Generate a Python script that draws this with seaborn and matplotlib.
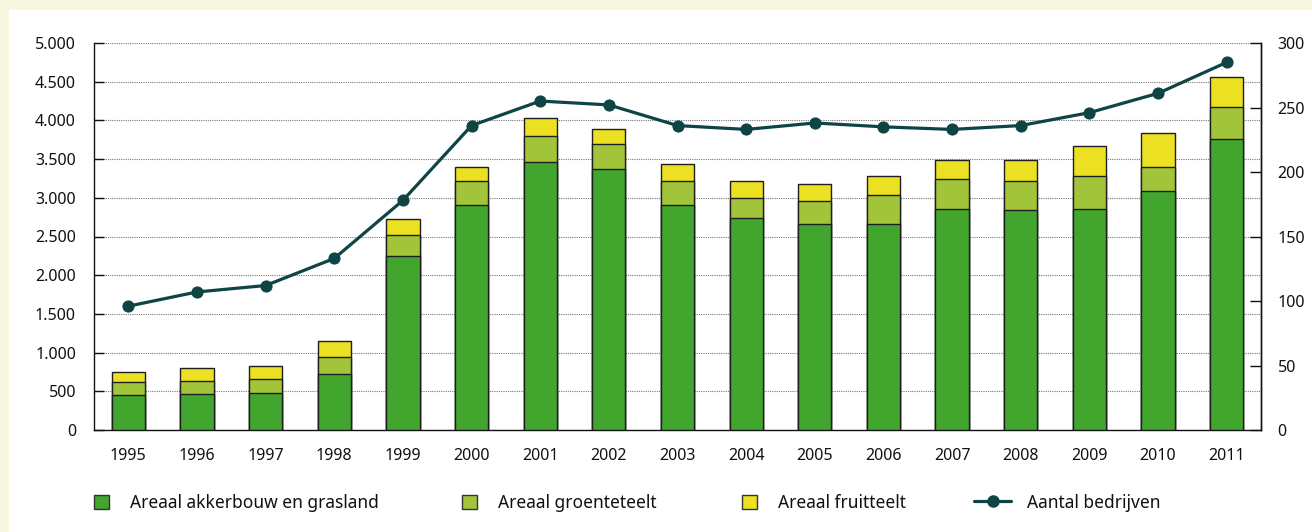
import numpy as np
import pandas as pd
import matplotlib
matplotlib.use("Agg")
import matplotlib.pyplot as plt
from matplotlib.ticker import FuncFormatter, FixedLocator
from matplotlib.patches import Patch, Rectangle
from matplotlib.lines import Line2D
import seaborn as sns

years = ["1995", "1996", "1997", "1998", "1999", "2000", "2001", "2002", "2003",
         "2004", "2005", "2006", "2007", "2008", "2009", "2010", "2011"]
akkerbouw = [448, 461, 482, 723, 2244, 2903, 3463, 3372, 2903, 2735, 2666, 2666,
             2851, 2842, 2851, 3084, 3756]
groenteteelt = [168, 172, 181, 220, 280, 310, 331, 319, 310, 262, 288, 374,
                388, 379, 426, 310, 421]
fruitteelt = [129, 164, 160, 203, 198, 181, 241, 194, 228, 220, 220, 246,
              249, 271, 392, 439, 388]
bedrijven = [96, 107, 112, 133, 178, 236, 255, 252, 236, 233, 238, 235,
             233, 236, 246, 261, 285]

names = ["Areaal akkerbouw en grasland", "Areaal groenteteelt", "Areaal fruitteelt",
         "Aantal bedrijven"]

c_dark = "#42a52d"
c_light = "#a2c43a"
c_yellow = "#ebe122"
c_line = "#0e4444"
c_cream = "#f7f7e0"

sns.set_style("white")
plt.rcParams["font.family"] = ["Noto Sans", "DejaVu Sans"]
plt.rcParams["font.size"] = 11.5

df = pd.DataFrame({"jaar": years, "a": akkerbouw, "g": groenteteelt, "f": fruitteelt,
                   "b": bedrijven})
df["ag"] = df["a"] + df["g"]
df["agf"] = df["ag"] + df["f"]

W, H = 1312, 532
fig = plt.figure(figsize=(W / 100, H / 100), dpi=100, facecolor="white")
# cream frame strips (left and top)
fig.patches.append(Rectangle((0, 0), 9 / W, 1, transform=fig.transFigure,
                             facecolor=c_cream, edgecolor="none", zorder=0))
fig.patches.append(Rectangle((0, 1 - 10 / H), 1, 10 / H, transform=fig.transFigure,
                             facecolor=c_cream, edgecolor="none", zorder=0))

ax = fig.add_axes([94 / W, 1 - 430 / H, (1261 - 94) / W, (430 - 43) / H])
ax.set_facecolor("none")

bw = 0.485
edge = "#1e1e1e"
sns.barplot(data=df, x="jaar", y="agf", color=c_yellow, width=bw, ax=ax,
            edgecolor=edge, linewidth=1, saturation=1, zorder=2)
sns.barplot(data=df, x="jaar", y="ag", color=c_light, width=bw, ax=ax,
            edgecolor=edge, linewidth=1, saturation=1, zorder=3)
sns.barplot(data=df, x="jaar", y="a", color=c_dark, width=bw, ax=ax,
            edgecolor=edge, linewidth=1, saturation=1, zorder=4)

ax.set_xlim(-0.5, len(years) - 0.5)
ax.set_ylim(0, 5000)
ax.set_yticks(np.arange(0, 5001, 500))
ax.yaxis.set_major_formatter(FuncFormatter(lambda v, p: f"{int(v):,}".replace(",", ".")))
ax.set_xlabel("")
ax.set_ylabel("")
ax.grid(axis="y", linestyle=(0, (1, 1)), color="#7a7a7a", linewidth=0.8, zorder=0)
ax.set_axisbelow(True)
for s in ["top"]:
    ax.spines[s].set_visible(False)
for s in ["left", "bottom", "right"]:
    ax.spines[s].set_color("#111111")
    ax.spines[s].set_linewidth(1.0)
ax.tick_params(axis="y", direction="in", length=7.5, width=1, color="#111111",
               pad=13, labelsize=11.5, labelcolor="#111111")
ax.tick_params(axis="x", which="major", length=0, pad=13, labelsize=11.5,
               labelcolor="#111111")
ax.xaxis.set_minor_locator(FixedLocator(np.arange(0.5, len(years) - 1, 1.0)))
ax.tick_params(axis="x", which="minor", direction="in", length=7.5, width=1,
               color="#111111")

ax2 = ax.twinx()
sns.lineplot(x=np.arange(len(years)), y=bedrijven, ax=ax2, color=c_line,
             linewidth=2.3, marker="o", markersize=8, markeredgecolor=c_line,
             zorder=5)
ax2.set_ylim(0, 300)
ax2.set_yticks(np.arange(0, 301, 50))
ax2.spines["top"].set_visible(False)
ax2.spines["left"].set_visible(False)
ax2.spines["bottom"].set_visible(False)
ax2.spines["right"].set_color("#111111")
ax2.spines["right"].set_linewidth(1.0)
ax2.tick_params(axis="y", direction="in", length=8, width=1, color="#111111",
                pad=12, labelsize=11.5, labelcolor="#111111")
ax2.set_ylabel("")
ax2.grid(False)

# legend, one entry per position
ly = 1 - 503 / H
lfs = 12.5
items = [
    (Patch(facecolor=c_dark, edgecolor="#333333", linewidth=1), names[0], 94, 0.87, 1.2),
    (Patch(facecolor=c_light, edgecolor="#333333", linewidth=1), names[1], 462, 0.87, 1.2),
    (Patch(facecolor=c_yellow, edgecolor="#333333", linewidth=1), names[2], 742, 0.87, 1.2),
    (Line2D([], [], color=c_line, linewidth=2.3, marker="o", markersize=8), names[3], 974, 2.15, 0.9),
]
for h, lab, x0, hl, tp in items:
    lg = fig.legend([h], [lab], loc="center left", bbox_to_anchor=(x0 / W, ly),
                    bbox_transform=fig.transFigure, frameon=False, borderpad=0,
                    borderaxespad=0, handlelength=hl, handleheight=0.87,
                    handletextpad=tp, fontsize=lfs, labelcolor="#111111")

fig.savefig("out.png", dpi=100, facecolor="white")
